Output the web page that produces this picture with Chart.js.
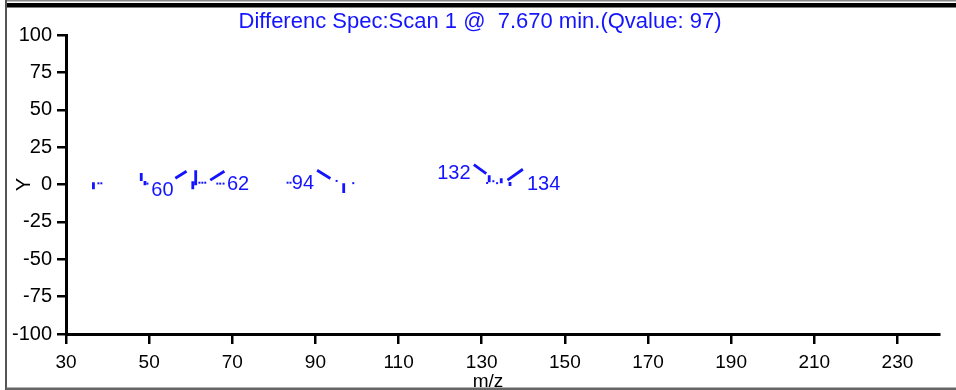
<!DOCTYPE html>
<html>
<head>
<meta charset="utf-8">
<script src="https://cdn.jsdelivr.net/npm/chart.js@4"></script>
<style>
  html, body { margin: 0; padding: 0; background: #fff; }
  canvas { display: block; }
</style>
</head>
<body>
<canvas id="myChart" width="956" height="390"></canvas>
<script>
const ctx = document.getElementById("myChart");

// vertical sticks (m/z, low, high)
const stickMz = [36.6, 48.1, 49.0, 60.5, 61.2, 96.8, 131.8, 134.7, 136.8];
const stickLow = [-3.2, 2.4, -0.5, -3.2, -0.5, -5.7, 1.5, 0.9, -1.0];
const stickHigh = [1.5, 7.7, 2.4, 2.2, 9.5, 0.9, 6.2, 4.2, 1.7];

// slanted strokes (start m/z, start y, end m/z, end y)
const diagX1 = [56.3, 64.7, 90.4, 128.1, 136.2];
const diagY1 = [4.2, 2.9, 9.5, 13.3, 2.9];
const diagX2 = [59.0, 68.1, 93.6, 131.1, 139.9];
const diagY2 = [8.9, 8.9, 4.0, 7.3, 10.2];

// small dots
const dotMz = [37.8, 38.5, 49.6, 62.1, 62.8, 63.5, 66.4, 67.1, 67.9, 83.3, 84.0, 95.1, 99.1, 131.3, 132.8, 133.7];
const dotY = [0.8, 0.8, 0.6, 1.2, 1.2, 1.2, 0.6, 0.6, 0.6, 1.2, 1.2, 2.4, 0.9, 1.0, 2.2, 0.9];

// peak labels
const peakLabels = ["60", "62", "94", "132", "134"];
const labelMz = [53.2, 71.4, 87.0, 123.3, 144.9];
const labelY = [-3.8, 0.2, 1.0, 7.2, 0.2];

const xTicks = [30, 50, 70, 90, 110, 130, 150, 170, 190, 210, 230];
const yTicks = [-100, -75, -50, -25, 0, 25, 50, 75, 100];

const titulo = "Differenc Spec:Scan 1 @  7.670 min.(Qvalue: 97)";
const azul = "rgb(20,20,255)";
const fuente = "'Liberation Sans', Arial, sans-serif";

// armar segmentos con huecos (null) entre ellos
const segmentos = [];
stickMz.forEach((mz, i) => {
  segmentos.push({ x: mz, y: stickLow[i] }, { x: mz, y: stickHigh[i] }, { x: mz, y: null });
});
diagX1.forEach((x1, i) => {
  segmentos.push({ x: x1, y: diagY1[i] }, { x: diagX2[i], y: diagY2[i] }, { x: diagX2[i], y: null });
});
const puntos = dotMz.map((mz, i) => ({ x: mz, y: dotY[i] }));

const marco = {
  id: "marco",
  beforeDraw(chart) {
    const c = chart.ctx;
    c.save();
    c.fillStyle = "#fff";
    c.fillRect(0, 0, chart.width, chart.height);
    // restos del panel de arriba
    c.fillStyle = "#000";
    c.font = "19px " + fuente;
    c.textAlign = "center";
    c.textBaseline = "alphabetic";
    c.fillText("m/z", 488, 1);
    c.fillStyle = "#888";
    c.fillRect(6, 0, chart.width - 6, 1.5);
    c.fillStyle = "#000";
    c.fillRect(6, 3, chart.width - 6, 4.5);
    c.fillStyle = "#555";
    c.fillRect(5, 0, 2, chart.height);
    // titulos
    c.fillStyle = azul;
    c.font = "22px " + fuente;
    c.textBaseline = "middle";
    c.fillText(titulo, 480, 22);
    c.fillStyle = "#000";
    c.font = "19px " + fuente;
    c.fillText("m/z", 488, 382);
    c.fillStyle = "#666";
    c.fillRect(6, 387.5, chart.width - 6, 2.5);
    c.restore();
  },
};

const etiquetas = {
  id: "etiquetas",
  afterDatasetsDraw(chart) {
    const c = chart.ctx;
    const sx = chart.scales.x;
    const sy = chart.scales.y;
    c.save();
    c.fillStyle = azul;
    c.font = "20px " + fuente;
    c.textAlign = "center";
    c.textBaseline = "middle";
    peakLabels.forEach((t, i) => {
      c.fillText(t, sx.getPixelForValue(labelMz[i]), sy.getPixelForValue(labelY[i]));
    });
    c.restore();
  },
};

Chart.defaults.font.family = fuente;
Chart.defaults.color = "#000";

new Chart(ctx, {
  type: "line",
  data: {
    datasets: [
      {
        label: "segmentos",
        data: segmentos,
        borderColor: azul,
        borderWidth: 2.8,
        pointRadius: 0,
        spanGaps: false,
        fill: false,
      },
      {
        label: "puntos",
        data: puntos,
        showLine: false,
        pointStyle: "rect",
        pointRadius: 1.4,
        pointBorderWidth: 0,
        pointBackgroundColor: azul,
      },
    ],
  },
  options: {
    responsive: false,
    animation: false,
    layout: { padding: { left: 0, right: 17, top: 35, bottom: 0 } },
    plugins: {
      legend: { display: false },
      tooltip: { enabled: false },
    },
    scales: {
      x: {
        type: "linear",
        min: 30,
        max: 240,
        afterBuildTicks: (s) => { s.ticks = xTicks.map((v) => ({ value: v })); },
        afterFit: (s) => { s.height = 56; },
        border: { color: "#000", width: 3 },
        grid: { drawOnChartArea: false, color: "#000", lineWidth: 2.5, tickLength: 10 },
        ticks: { font: { size: 19 }, padding: 7, maxRotation: 0, autoSkip: false },
      },
      y: {
        min: -100,
        max: 100,
        afterBuildTicks: (s) => { s.ticks = yTicks.map((v) => ({ value: v })); },
        afterFit: (s) => { s.width = 66; },
        border: { color: "#000", width: 3 },
        grid: { drawOnChartArea: false, color: "#000", lineWidth: 2.5, tickLength: 9 },
        ticks: { font: { size: 20 }, padding: 5 },
        title: { display: true, text: "Y", font: { size: 20 }, padding: { top: 12, bottom: 0 } },
      },
    },
  },
  plugins: [marco, etiquetas],
});
</script>
</body>
</html>
